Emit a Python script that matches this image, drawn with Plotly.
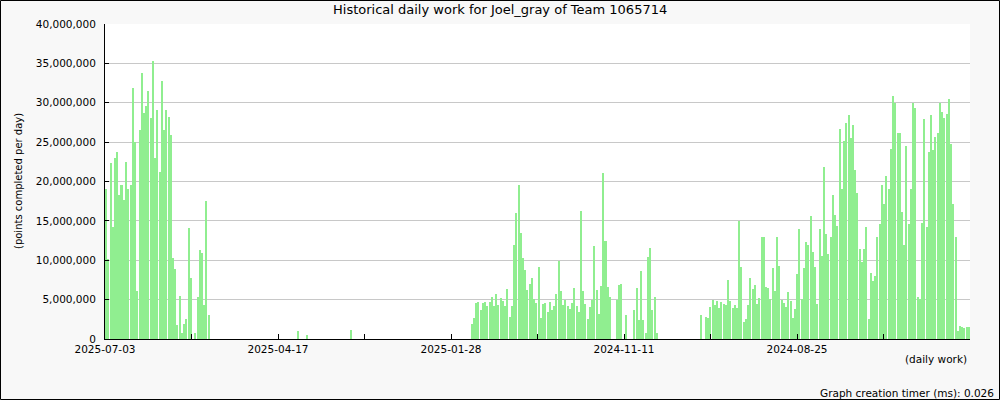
import plotly.graph_objects as go

# ---------------- data (millions of points per day, left -> right) ----------------
tick_labels = ["2025-07-03", "2025-04-17", "2025-01-28", "2024-11-11", "2024-08-25"]

run_recent = [19.1, 10.2, 22.4, 14.2, 23.0, 23.7, 18.3, 19.5, 17.6, 22.5, 19.1, 19.5,
              31.9, 25.0, 6.1, 26.6, 33.8, 28.7, 29.6, 31.5, 28.1, 35.3, 23.0, 29.1,
              21.2, 32.8, 26.6, 29.1, 28.2, 25.9, 10.3, 8.9, 1.8, 5.5, 0.8, 1.9,
              2.5, 14.1, 7.7, 0.0, 0.8, 5.3, 11.3, 10.9, 4.3, 17.5, 3.1]
run_quiet = [0.0, 0.0, 0.0, 0.0, 0.0, 0.0, 0.0, 0.0, 0.0, 0.0, 0.0, 0.0, 0.0,
             0.0, 0.0, 0.0, 0.0, 0.0, 0.0, 0.0, 0.0, 0.0, 0.0, 0.0, 0.0, 0.0,
             0.0, 0.0, 0.0, 0.0, 0.0, 0.0, 0.0, 0.0, 0.0, 0.0, 0.0, 0.0, 0.0,
             1.0, 0.0, 0.0, 0.0, 0.5, 0.0, 0.0, 0.0, 0.0, 0.0, 0.0, 0.0, 0.0,
             0.0, 0.0, 0.0, 0.0, 0.0, 0.0, 0.0, 0.0, 0.0, 0.0, 0.0, 1.1, 0.0,
             0.0, 0.0, 0.0, 0.0, 0.0, 0.0, 0.0, 0.0, 0.0, 0.0, 0.0, 0.0, 0.0,
             0.0, 0.0, 0.0, 0.0, 0.0, 0.0, 0.0, 0.0, 0.0, 0.0, 0.0, 0.0, 0.0,
             0.0, 0.0, 0.0, 0.0, 0.0, 0.0, 0.0, 0.0, 0.0, 0.0, 0.0, 0.0, 0.0,
             0.0, 0.0, 0.0, 0.0, 0.0, 0.0, 0.0, 0.0, 0.0, 0.0, 0.0, 0.0, 0.0]
run_winter = [1.9, 2.7, 4.6, 4.7, 3.7, 4.6, 4.7, 4.2, 4.7, 5.3, 4.2, 5.7, 4.3, 5.2,
              4.8, 4.2, 6.3, 2.8, 4.2, 11.9, 16.0, 19.5, 13.4, 10.3, 8.8, 6.2, 7.0,
              7.7, 5.1, 4.6, 9.1, 2.7, 4.4, 4.6, 3.4, 4.7, 3.7, 4.2, 5.7, 9.9, 6.1, 4.3]
run_autumn = [5.0, 4.2, 3.8, 4.6, 6.5, 4.2, 3.4, 16.2, 6.1, 4.4, 2.5, 4.1, 5.0, 11.8,
              6.2, 3.2, 6.7, 21.1, 12.4, 6.6, 5.3, 0.0, 0.0, 4.9, 6.8, 7.0, 0.0, 3.0,
              0.0, 0.0, 0.0, 3.7, 6.5, 2.4, 8.6, 2.4, 0.8, 10.4, 11.5, 3.7, 5.3, 0.8]
run_pause = [0.0, 0.0, 0.0, 0.0, 0.0, 0.0, 0.0, 0.0, 0.0, 0.0, 0.0, 0.0, 0.0, 0.0,
             0.0, 0.0, 0.0, 0.0, 0.0, 3.0, 0.0]
run_summer = [2.8, 2.7, 4.1, 4.9, 4.3, 4.8, 3.9, 4.7, 4.4, 4.3, 7.5, 4.8, 3.9, 4.3,
              3.9, 15.0, 9.1, 2.2, 2.5, 4.3, 7.7, 6.3, 6.8, 4.4, 5.2, 13.0, 13.0, 6.6,
              6.5, 5.1, 9.0, 6.1, 12.9, 9.3, 4.9, 4.6, 4.1, 6.0, 4.8, 2.7, 3.8, 8.2]
run_oldest = [14.0, 5.1, 9.0, 12.3, 12.0, 15.6, 11.0, 9.1, 4.4, 14.0, 10.6, 21.9, 13.3,
              10.8, 12.9, 18.3, 15.7, 14.3, 26.7, 19.0, 25.2, 27.4, 28.4, 25.5, 27.2,
              21.4, 18.6, 11.4, 9.8, 11.4, 14.2, 2.5, 8.4, 7.4, 8.0, 12.9, 14.6, 19.5,
              17.1, 20.7, 19.0, 24.1, 30.8, 30.0, 26.2, 26.2, 16.1, 12.0, 24.5, 14.6,
              19.0, 30.0, 29.3, 5.3, 5.1, 14.7, 27.9, 14.2, 23.8, 28.4, 24.0, 25.6,
              26.1, 30.0, 28.8, 28.1, 28.6, 30.5, 24.7, 17.1, 12.9, 1.0, 1.6, 1.5,
              1.4, 1.5, 1.5]

values_m = run_recent + run_quiet + run_winter + run_autumn + run_pause + run_summer + run_oldest
n_days = len(values_m)
day_index = list(range(n_days))
points = [v * 1_000_000 for v in values_m]

# ---------------- figure ----------------
FONT = "DejaVu Sans"
W, H = 1000, 400
ML, MR, MT, MB = 105, 30, 24, 61
PW, PH = W - ML - MR, H - MT - MB


def px(xp):
    return (xp - ML) / PW


def py(yp):
    return (H - MB - yp) / PH


fig = go.Figure(go.Bar(
    x=day_index, y=points, width=0.9,
    marker=dict(color="#90ee90", line=dict(width=0)),
    hovertemplate="%{y:,}<extra></extra>",
))

step = n_days / 10
tickvals = [-0.5 + step * k for k in range(11)]
ticktext = [tick_labels[k // 2] if k % 2 == 0 and k // 2 < len(tick_labels) else "" for k in range(11)]

fig.update_layout(
    width=W, height=H,
    margin=dict(l=ML, r=MR, t=MT, b=MB, pad=0),
    paper_bgcolor="#f8f8f8", plot_bgcolor="#ffffff",
    showlegend=False, bargap=0,
    font=dict(family=FONT, size=10, color="#000000"),
    xaxis=dict(range=[-0.5, n_days - 0.5], tickmode="array", tickvals=tickvals, ticktext=ticktext,
               ticks="inside", ticklen=5, tickcolor="#000000", tickwidth=1,
               showline=True, linecolor="#000000", linewidth=1, showgrid=False, zeroline=False,
               tickfont=dict(family=FONT, size=10.5, color="#000000")),
    yaxis=dict(range=[0, 40_000_000], tickmode="array",
               tickvals=[0, 5e6, 10e6, 15e6, 20e6, 25e6, 30e6, 35e6, 40e6], tickformat=",d",
               ticks="inside", ticklen=4, tickcolor="#000000", tickwidth=1,
               showline=True, linecolor="#000000", linewidth=1,
               showgrid=True, gridcolor="#c8c8c8", gridwidth=1, zeroline=False,
               ticklabelstandoff=6,
               tickfont=dict(family=FONT, size=10.5, color="#000000")),
    annotations=[
        dict(text="Historical daily work for Joel_gray of Team 1065714", x=px(500), y=py(10),
             xref="paper", yref="paper", xanchor="center", yanchor="middle", showarrow=False,
             font=dict(family=FONT, size=13, color="#000000")),
        dict(text="(points completed per day)", x=px(18), y=py(181), textangle=-90,
             xref="paper", yref="paper", xanchor="center", yanchor="middle", showarrow=False,
             font=dict(family=FONT, size=10, color="#000000")),
        dict(text="(daily work)", x=px(969), y=py(359),
             xref="paper", yref="paper", xanchor="right", yanchor="middle", showarrow=False,
             font=dict(family=FONT, size=10.5, color="#000000")),
        dict(text="Graph creation timer (ms): 0.026", x=px(996), y=py(393),
             xref="paper", yref="paper", xanchor="right", yanchor="middle", showarrow=False,
             font=dict(family=FONT, size=10.5, color="#000000")),
    ],
    shapes=[dict(type="rect", xref="paper", yref="paper",
                 x0=px(0.5), x1=px(999.5), y0=py(399.5), y1=py(0.5),
                 line=dict(color="#000000", width=1), fillcolor="rgba(0,0,0,0)", layer="above")],
)

fig.write_html("out.html", config={"displayModeBar": False},
               post_script="document.body.style.margin='0';document.body.style.overflow='hidden';")
